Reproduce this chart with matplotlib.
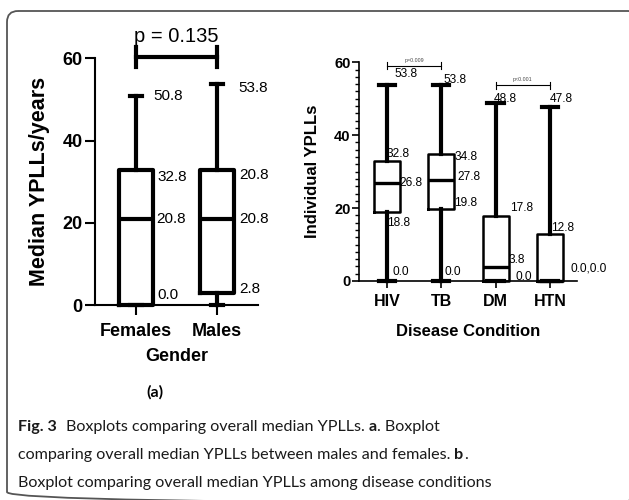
import matplotlib
matplotlib.use("Agg")
import matplotlib.pyplot as plt
from matplotlib.patches import FancyBboxPatch
from matplotlib.ticker import MultipleLocator

plt.rcParams['font.family'] = ['Liberation Sans', 'DejaVu Sans']

# panel (a): gender
gender_groups = ['Females', 'Males']
gender_min = [0.0, 0.0]
gender_q1 = [0.0, 2.8]
gender_med = [20.8, 20.8]
gender_q3 = [32.8, 32.8]
gender_max = [50.8, 53.8]
# value labels as printed on the figure (max, q3, median, q1)
gender_labels = [['50.8', '32.8', '20.8', '0.0'],
                 ['53.8', '20.8', '20.8', '2.8']]
gender_p = 'p = 0.135'

# panel (b): disease condition
disease_groups = ['HIV', 'TB', 'DM', 'HTN']
disease_min = [0.0, 0.0, 0.0, 0.0]
disease_q1 = [18.8, 19.8, 0.0, 0.0]
disease_med = [26.8, 27.8, 3.8, 0.0]
disease_q3 = [32.8, 34.8, 17.8, 12.8]
disease_max = [53.8, 53.8, 48.8, 47.8]
disease_labels = [['53.8', '32.8', '26.8', '18.8', '0.0'],
                  ['53.8', '34.8', '27.8', '19.8', '0.0'],
                  ['48.8', '17.8', '3.8', '0.0'],
                  ['47.8', '12.8', '0.0,0.0']]
disease_p = ['p=0.009', 'p<0.001']


def make_stats(lo, q1, med, q3, hi):
    return [dict(whislo=a, q1=b, med=c, q3=d, whishi=e, fliers=[])
            for a, b, c, d, e in zip(lo, q1, med, q3, hi)]


fig = plt.figure(figsize=(6.29, 5.0), dpi=100)

# overlay in pixel coordinates for frame + caption
bg = fig.add_axes([0, 0, 1, 1], zorder=0)
bg.set_xlim(0, 629)
bg.set_ylim(500, 0)
bg.axis('off')
frame = FancyBboxPatch((7, 11), 632, 492, boxstyle='round,pad=0,rounding_size=11',
                       fill=False, ec='#555555', lw=1.3, clip_on=False)
bg.add_patch(frame)

# ---------- panel (a) ----------
ax1 = fig.add_axes([95 / 629, 195 / 500, 163 / 629, 246.7 / 500], zorder=2)
ax1.patch.set_alpha(0)
pos1 = [1, 2]
art = ax1.bxp(make_stats(gender_min, gender_q1, gender_med, gender_q3, gender_max),
              positions=pos1, widths=0.43, capwidths=0.15, showfliers=False,
              boxprops=dict(lw=3, color='black'), whiskerprops=dict(lw=3, color='black'),
              capprops=dict(lw=3, color='black'), medianprops=dict(lw=3, color='black'))
for k in art:
    for a in art[k]:
        a.set_clip_on(False)
ax1.set_xlim(0.494, 2.506)
ax1.set_ylim(0, 60)
ax1.set_yticks([0, 20, 40, 60])
ax1.set_xticks(pos1)
ax1.set_xticklabels(gender_groups, fontsize=13, fontweight='bold')
for t in ax1.get_yticklabels():
    t.set_fontsize(13)
    t.set_fontweight('bold')
ax1.tick_params(axis='y', length=7, width=1.5, pad=2)
ax1.tick_params(axis='x', length=7, width=1.5, pad=6)
for s in ['top', 'right']:
    ax1.spines[s].set_visible(False)
for s in ['left', 'bottom']:
    ax1.spines[s].set_linewidth(1.5)
ax1.set_ylabel('Median YPLLs/years', fontsize=15.5, fontweight='bold', labelpad=9)
ax1.set_xlabel('Gender', fontsize=13, fontweight='bold', labelpad=6)

label_dx1 = [[0.21, 0.26, 0.25, 0.26], [0.26, 0.28, 0.28, 0.28]]
label_dy1 = [[0.0, -1.6, 0.0, 2.4], [-1.1, -1.3, 0.0, 1.0]]
for i, p in enumerate(pos1):
    vals = [gender_max[i], gender_q3[i], gender_med[i], gender_q1[i]]
    for j, lab in enumerate(gender_labels[i]):
        ax1.text(p + label_dx1[i][j], vals[j] + label_dy1[i][j], lab,
                 ha='left', va='center', fontsize=11)

# significance bracket
ax1.plot([1, 2], [60.4, 60.4], color='black', lw=3, clip_on=False)
for p in pos1:
    ax1.plot([p, p], [57.9, 62.8], color='black', lw=3, clip_on=False)
ax1.text(1.5, 65.3, gender_p, ha='center', va='center', fontsize=14.5)

# ---------- panel (b) ----------
ax2 = fig.add_axes([359 / 629, 219 / 500, 217.7 / 629, 218.7 / 500], zorder=2)
ax2.patch.set_alpha(0)
pos2 = [1, 2, 3, 4]
art = ax2.bxp(make_stats(disease_min, disease_q1, disease_med, disease_q3, disease_max),
              positions=pos2, widths=0.48, capwidths=0.3, showfliers=False,
              boxprops=dict(lw=1.8, color='black'), whiskerprops=dict(lw=3, color='black'),
              capprops=dict(lw=3, color='black'), medianprops=dict(lw=2.4, color='black'))
for k in art:
    for a in art[k]:
        a.set_clip_on(False)
ax2.set_xlim(0.49, 4.49)
ax2.set_ylim(0, 60)
ax2.set_yticks([0, 20, 40, 60])
ax2.yaxis.set_minor_locator(MultipleLocator(2))
ax2.set_xticks(pos2)
ax2.set_xticklabels(disease_groups, fontsize=11.5, fontweight='bold')
for t in ax2.get_yticklabels():
    t.set_fontsize(10.5)
    t.set_fontweight('bold')
ax2.tick_params(axis='y', which='major', length=5, width=1.2, pad=1)
ax2.tick_params(axis='y', which='minor', length=3, width=1.0)
ax2.tick_params(axis='x', length=5, width=1.2, pad=4)
for s in ['top', 'right']:
    ax2.spines[s].set_visible(False)
for s in ['left', 'bottom']:
    ax2.spines[s].set_linewidth(1.2)
ax2.set_ylabel('Individual YPLLs', fontsize=12, fontweight='bold', labelpad=10)
ax2.set_xlabel('Disease Condition', fontsize=12, fontweight='bold', labelpad=11)

label_pos2 = [[(0.15, 56.8), (-0.01, 34.8), (0.24, 27.0), (0.0, 16.0), (0.11, 2.5)],
              [(0.05, 55.2), (0.24, 34.1), (0.29, 28.4), (0.24, 21.5), (0.06, 2.5)],
              [(-0.03, 49.9), (0.27, 19.9), (0.24, 5.8), (0.36, 1.2)],
              [(0.0, 49.9), (0.02, 14.5), (0.38, 3.3)]]
for i, p in enumerate(pos2):
    for lab, (dx, y) in zip(disease_labels[i], label_pos2[i]):
        ax2.text(p + dx, y, lab, ha='left', va='center', fontsize=8.6, zorder=1)

# small brackets
for (a, b), ybr, txt in zip([(1, 2), (3, 4)], [59.1, 53.7], disease_p):
    ax2.plot([a, b], [ybr, ybr], color='black', lw=0.8, clip_on=False)
    for p in (a, b):
        ax2.plot([p, p], [ybr - 0.9, ybr + 0.9], color='black', lw=0.8, clip_on=False)
    ax2.text((a + b) / 2, ybr + 1.5, txt, ha='center', va='center', fontsize=3.8,
             color='#444444')

# ---------- caption ----------
bg.text(155, 392, '(a)', ha='center', va='center', fontsize=11.5, fontweight='bold',
        family=['Lato', 'DejaVu Sans'])

renderer = fig.canvas.get_renderer()
cap_size = 11.6


def rich_line(x, y, parts):
    for txt, weight, gap in parts:
        t = bg.text(x, y, txt, ha='left', va='baseline', fontsize=cap_size,
                    fontweight=weight, family=['Lato', 'DejaVu Sans'], color='#1a1a1a')
        bb = t.get_window_extent(renderer)
        x += bb.width + gap


rich_line(18, 431, [('Fig. 3', 'bold', 9),
                    ('Boxplots comparing overall median YPLLs.', 'normal', 4),
                    ('a', 'bold', 0.5), ('. Boxplot', 'normal', 0)])
rich_line(18, 459, [('comparing overall median YPLLs between males and females.', 'normal', 4),
                    ('b', 'bold', 0.5), ('.', 'normal', 0)])
rich_line(18, 487, [('Boxplot comparing overall median YPLLs among disease conditions',
                     'normal', 0)])

fig.savefig('out.png', dpi=100)
